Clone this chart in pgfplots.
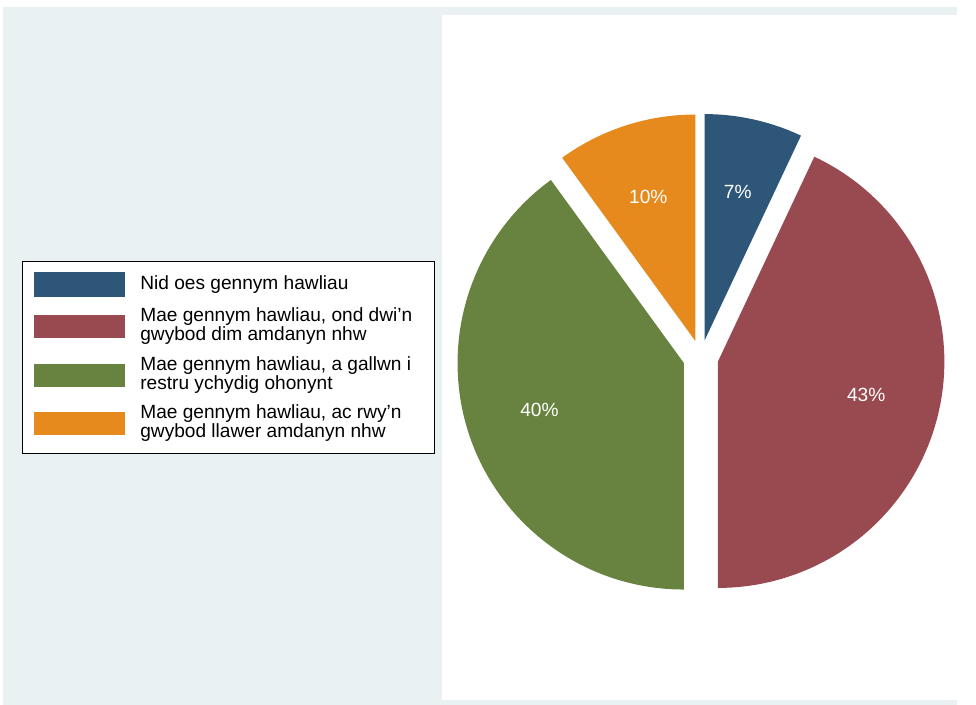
\documentclass[border=0pt]{standalone}
\usepackage{pgfplots}
\pgfplotsset{compat=1.18}
\usepackage{fontspec}
\setmainfont{Liberation Sans}
\definecolor{bgc}{HTML}{EAF1F3}
\definecolor{c1}{HTML}{2E5679}
\definecolor{c2}{HTML}{984A50}
\definecolor{c3}{HTML}{67833F}
\definecolor{c4}{HTML}{E68A1E}
\begin{document}
\begin{tikzpicture}[x=1pt,y=1pt]
% values (percent)
\def\va{7}\def\vb{43}\def\vc{40}\def\vd{10}
\pgfmathsetmacro\aA{90}
\pgfmathsetmacro\aB{90-3.6*\va}
\pgfmathsetmacro\aC{\aB-3.6*\vb}
\pgfmathsetmacro\aD{\aC-3.6*\vc}
\pgfmathsetmacro\aE{\aD-3.6*\vd}
\pgfmathsetmacro\mA{(\aA+\aB)/2}
\pgfmathsetmacro\mB{(\aB+\aC)/2}
\pgfmathsetmacro\mC{(\aC+\aD)/2}
\pgfmathsetmacro\mD{(\aD+\aE)/2}
\def\ex{18}\def\rr{231}\def\rl{173}
\fill[white] (0,0) rectangle (976,719);
\fill[bgc] (3,0) rectangle (976,712);
\fill[white] (451,5) rectangle (976,703.5);
\begin{axis}[at={(451pt,5pt)}, anchor=south west, scale only axis,
  width=525pt, height=698.5pt, xmin=-264, xmax=261, ymin=-349, ymax=349.5,
  hide axis, clip=false]
\fill[c1] (axis cs:{\ex*cos(\mA)},{\ex*sin(\mA)}) -- ++(\aA:\rr pt) arc[start angle=\aA, end angle=\aB, radius=\rr pt] -- cycle;
\fill[c2] (axis cs:{\ex*cos(\mB)},{\ex*sin(\mB)}) -- ++(\aB:\rr pt) arc[start angle=\aB, end angle=\aC, radius=\rr pt] -- cycle;
\fill[c3] (axis cs:{\ex*cos(\mC)},{\ex*sin(\mC)}) -- ++(\aC:\rr pt) arc[start angle=\aC, end angle=\aD, radius=\rr pt] -- cycle;
\fill[c4] (axis cs:{\ex*cos(\mD)},{\ex*sin(\mD)}) -- ++(\aD:\rr pt) arc[start angle=\aD, end angle=\aE, radius=\rr pt] -- cycle;
\node[white, font=\fontsize{19.5}{20}\selectfont] at (axis cs:{\rl*cos(\mA)},{\rl*sin(\mA)}) {\va\%};
\node[white, font=\fontsize{19.5}{20}\selectfont] at (axis cs:{\rl*cos(\mB)},{\rl*sin(\mB)}) {\vb\%};
\node[white, font=\fontsize{19.5}{20}\selectfont] at (axis cs:{\rl*cos(\mC)},{\rl*sin(\mC)}) {\vc\%};
\node[white, font=\fontsize{19.5}{20}\selectfont] at (axis cs:{\rl*cos(\mD)},{\rl*sin(\mD)}) {\vd\%};
\end{axis}
% legend
\draw[fill=white, draw=black, line width=1.3pt] (23,256) rectangle (443,452);
\fill[c1] (35,416) rectangle (128,441);
\fill[c2] (35,374) rectangle (128,398);
\fill[c3] (35,324) rectangle (128,348);
\fill[c4] (35,275) rectangle (128,299);
\begin{scope}[every node/.style={anchor=west, align=left, inner sep=0pt, font=\fontsize{19.5}{19}\selectfont}]
\node at (143,428.5) {Nid oes gennym hawliau};
\node at (143,386) {Mae gennym hawliau, ond dwi’n\\gwybod dim amdanyn nhw};
\node at (143,336) {Mae gennym hawliau, a gallwn i\\restru ychydig ohonynt};
\node at (143,287) {Mae gennym hawliau, ac rwy’n\\gwybod llawer amdanyn nhw};
\end{scope}
\end{tikzpicture}
\end{document}
